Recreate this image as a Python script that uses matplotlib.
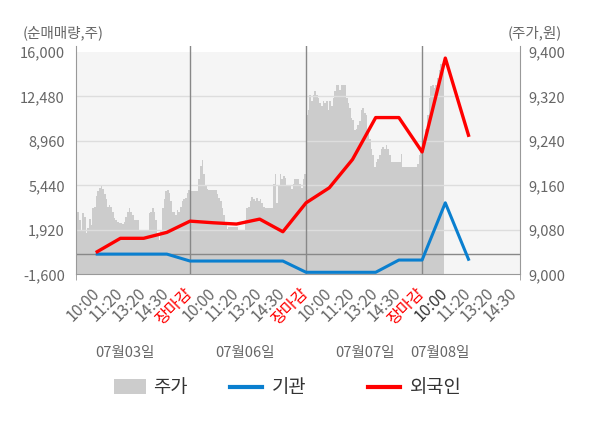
import matplotlib
matplotlib.use('Agg')
import matplotlib.pyplot as plt
import numpy as np
from matplotlib.patches import Rectangle
from matplotlib.lines import Line2D

plt.rcParams['font.family'] = ['Noto Sans CJK KR', 'DejaVu Sans']

# x axis labels
tick_labels = ['10:00', '11:20', '13:20', '14:30', '장마감'] * 3 + ['10:00', '11:20', '13:20', '14:30']
date_labels = ['07월03일', '07월06일', '07월07일', '07월08일']

# net buying (shares), one value per time slot
inst = [0, 0, 0, 0, -550, -550, -550, -550, -550, -1440, -1440, -1440, -1440, -470, -470, 4060, -410]
foreign = [190, 1250, 1250, 1720, 2610, 2480, 2380, 2770, 1770, 4060, 5250, 7490, 10810, 10810, 8090, 15520, 9410]

# price (won), intraday samples
price_d1 = [9098, 9119, 9113, 9098, 9080, 9110, 9104, 9075, 9083, 9099, 9089, 9119, 9122, 9141,
            9150, 9156, 9159, 9153, 9144, 9135, 9122, 9125, 9122, 9113, 9101, 9098, 9095, 9092,
            9092, 9091, 9095, 9104, 9113, 9119, 9113, 9107, 9098, 9098, 9098, 9080, 9080, 9080,
            9080, 9080, 9080, 9110, 9113, 9119, 9113, 9098, 9071, 9062, 9080, 9119, 9135, 9150,
            9151, 9147, 9132, 9113, 9113, 9107, 9116, 9113, 9122, 9132, 9135, 9138, 9147, 9151]
price_d2 = [9150, 9150, 9150, 9150, 9150, 9171, 9195, 9205, 9180, 9159, 9153, 9151, 9151, 9151,
            9151, 9151, 9144, 9138, 9132, 9119, 9107, 9089, 9081, 9086, 9086, 9086, 9086, 9086,
            9086, 9080, 9080, 9080, 9080, 9098, 9119, 9122, 9132, 9139, 9135, 9132, 9138, 9132,
            9135, 9128, 9122, 9119, 9119, 9119, 9119, 9119, 9162, 9180, 9128, 9159, 9180, 9171,
            9177, 9174, 9159, 9159, 9159, 9153, 9162, 9171, 9171, 9171, 9162, 9156, 9171, 9180]
price_d3 = [9287, 9296, 9323, 9311, 9323, 9329, 9323, 9317, 9308, 9302, 9311, 9308, 9311, 9296,
            9311, 9302, 9317, 9329, 9340, 9340, 9332, 9340, 9340, 9340, 9317, 9308, 9299, 9281,
            9278, 9259, 9262, 9268, 9275, 9296, 9299, 9290, 9287, 9256, 9244, 9226, 9214, 9193,
            9202, 9208, 9214, 9226, 9229, 9226, 9232, 9226, 9214, 9202, 9202, 9202, 9202, 9202,
            9202, 9217, 9193, 9193, 9193, 9193, 9193, 9193, 9193, 9193, 9193, 9199, 9214, 9226]
price_d4 = [9226, 9238, 9262, 9287, 9317, 9338, 9341, 9335, 9341, 9353, 9368, 9378, 9381, 9384]

SLOTS = 5          # label slots per day
PER_DAY = len(price_d1)

price = np.array(price_d1 + price_d2 + price_d3 + price_d4)
px = np.arange(len(price)) * SLOTS / PER_DAY
lx = np.arange(1, len(inst) + 1)

GRAY = '#666666'
fig = plt.figure(figsize=(6, 4.28), dpi=100)
ax = fig.add_axes([0.1267, 0.3591, 0.74, 0.5341])
ax2 = ax.twinx()
ax.set_zorder(ax2.get_zorder() + 1)
ax.patch.set_visible(False)

lo, hi, top = -1600, 16000, 16500
plo, phi = 9000, 9400
ptop = phi + (top - hi) * (phi - plo) / (hi - lo)

# price area + background on the twin axis
ax2.axhspan(plo, phi, color='#f5f5f5', zorder=0, lw=0)
ax2.fill_between(px, plo, price, step='post', color='#cccccc', lw=0, zorder=1)
for v in np.arange(plo + 80, phi, 80):
    ax2.axhline(v, color='#dddddd', lw=1, zorder=2)
ax2.set_ylim(plo, ptop)
ax2.set_yticks(np.arange(plo, phi + 1, 80))
ax2.set_yticklabels([f'{int(v):,}' for v in np.arange(plo, phi + 1, 80)])
ax2.tick_params(axis='y', length=0, pad=6, labelsize=10.5, labelcolor=GRAY)
for s in ax2.spines.values():
    s.set_visible(False)

# lines
ax.axhline(0, color='#888888', lw=1, zorder=2)
for d in (5, 10, 15):
    ax.axvline(d, color='#888888', lw=1, zorder=2)
ax.plot(lx, inst, color='#0a7fcf', lw=2.2, zorder=3)
ax.plot(lx, foreign, color='#ff0000', lw=2.4, zorder=4)

ax.set_xlim(0.086, 19.22)
ax.set_ylim(lo, top)
yt = np.arange(lo, hi + 1, 3520)
ax.set_yticks(yt)
ax.set_yticklabels([f'{int(v):,}' for v in yt])
ax.tick_params(axis='y', length=0, pad=8, labelsize=10.5, labelcolor=GRAY)

ax.set_xticks(np.arange(1, len(tick_labels) + 1))
ax.set_xticklabels(tick_labels, rotation=45, ha='right', va='center', rotation_mode='anchor')
ax.tick_params(axis='x', length=0, pad=12, labelsize=11.5, labelcolor=GRAY)
for lab in ax.get_xticklabels():
    if lab.get_text() == '장마감':
        lab.set_color('#ff0000')
ax.get_xticklabels()[15].set_color('#333333')
ax.set_xticks([0.086, 5, 10, 15, 19.22], minor=True)
ax.tick_params(axis='x', which='minor', length=4, color='#999999')

ax.spines['top'].set_visible(False)
for k in ('left', 'right', 'bottom'):
    ax.spines[k].set_color('#999999')

# date labels
for xd, lab in zip([2.2, 7.37, 12.54, 15.78], date_labels):
    ax.text(xd, -0.344, lab, transform=ax.get_xaxis_transform(), ha='center', va='center',
            fontsize=10.5, color=GRAY)

fig.text(23 / 600, 1 - 33 / 428, '(순매매량,주)', ha='left', va='center', fontsize=10.5, color=GRAY)
fig.text(562 / 600, 1 - 33 / 428, '(주가,원)', ha='right', va='center', fontsize=10.5, color=GRAY)

# legend
ly = 1 - 387 / 428
fig.patches.append(Rectangle((114 / 600, 1 - 394 / 428), 32 / 600, 15 / 428,
                             transform=fig.transFigure, color='#cccccc', lw=0))
fig.text(153 / 600, ly, '주가', ha='left', va='center', fontsize=13.5, color='#333333')
fig.lines.append(Line2D([230 / 600, 262 / 600], [ly, ly], transform=fig.transFigure,
                        color='#0a7fcf', lw=3))
fig.text(272 / 600, ly, '기관', ha='left', va='center', fontsize=13.5, color='#333333')
fig.lines.append(Line2D([368 / 600, 400 / 600], [ly, ly], transform=fig.transFigure,
                        color='#ff0000', lw=3))
fig.text(410 / 600, ly, '외국인', ha='left', va='center', fontsize=13.5, color='#333333')

fig.savefig('out.png', dpi=100)
